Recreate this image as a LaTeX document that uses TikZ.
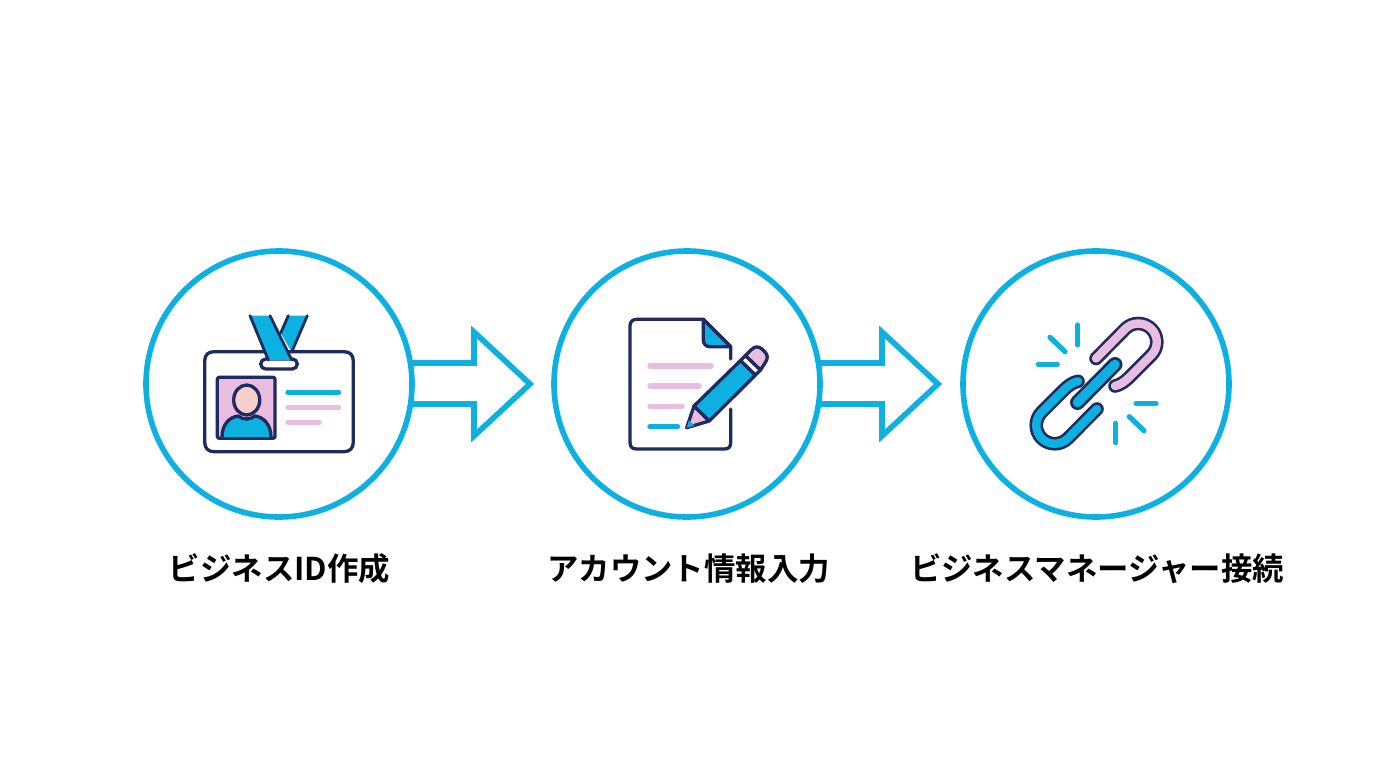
\documentclass[tikz,border=0pt]{standalone}
\usepackage{fontspec}
\setmainfont[BoldFont={Noto Sans CJK JP Bold}]{Noto Sans CJK JP}
\usetikzlibrary{calc}
\definecolor{cy}{HTML}{0CB1E2}
\definecolor{pk}{HTML}{E9BDE0}
\definecolor{nv}{HTML}{1F2A5E}
\definecolor{sk}{HTML}{F5CFCA}
\tikzset{
 ring/.style={circle,draw=cy,line width=5.6pt,minimum size=266pt,inner sep=0pt,outer sep=0pt},
 flow/.style={draw=cy,line width=5.6pt,line join=miter,miter limit=10},
 caption/.style={font=\bfseries\fontsize{31.4}{36}\selectfont,text=black,inner sep=0pt},
 ol/.style={draw=nv,line width=3.3pt,line join=round,line cap=round},
 bar/.style={line width=5.5pt,line cap=round},
 spark/.style={draw=cy,line width=5.2pt,line cap=round},
 linkout/.style={draw=nv,line width=13.6pt,line cap=round,line join=round},
 linkin/.style={line width=8.4pt,line cap=round,line join=round},
 barout/.style={draw=nv,line width=15pt,line cap=round},
 barin/.style={draw=cy,line width=9.6pt,line cap=round},
}
\begin{document}
\begin{tikzpicture}[x=1pt,y=-1pt]
\useasboundingbox[fill=white] (0,0) rectangle (1376,768);
\node[ring] (a) at (279,384) {};
\node[ring] (b) at (687,384) {};
\node[ring] (c) at (1096,384) {};
\coordinate (a1) at ($(a)+(131,-21)$);
\coordinate (a2) at ($(a)+(131,20)$);
\coordinate (b1) at ($(b)+(131,-21)$);
\coordinate (b2) at ($(b)+(131,20)$);
\draw[flow] (a1) -- ++(64,0) -- ++(0,-31) -- ++(56,52) -- ++(-56,52) -- ++(0,-32) -- (a2);
\draw[flow] (b1) -- ++(64,0) -- ++(0,-31) -- ++(56,52) -- ++(-56,52) -- ++(0,-32) -- (b2);
% captions
\node[caption] (t1) at (279.5,569) {ビジネスID作成};
\node[caption] (t2) at (688.5,569) {アカウント情報入力};
\node[caption] (t3) at (1097,569) {ビジネスマネージャー接続};
% --- icon 1
\draw[ol] (214,351.7) -- (344,351.7) .. controls (350,351.7) and (353.3,355) .. (353.3,361) -- (353.3,442) .. controls (353.3,448) and (350,451.7) .. (344,451.7) -- (214,451.7) .. controls (208,451.7) and (204.7,448) .. (204.7,442) -- (204.7,361) .. controls (204.7,355) and (208,351.7) .. (214,351.7) -- cycle;
\fill[cy] (288.3,315.7) -- (307.3,315.7) -- (291.7,352) -- (280.7,333) -- cycle;
\draw[ol,line width=2.8pt] (288.3,315.7) -- (280.7,333) (307.3,315.7) -- (291.7,352);
\draw[ol,fill=white,rounded corners=5pt] (260.7,359) rectangle (297.3,369);
\fill[cy] (250,315.7) -- (270,315.7) -- (291.7,360) -- (268.3,360) -- cycle;
\draw[ol,line width=2.8pt] (250,315.7) -- (268.3,360) (270,315.7) -- (291.7,360);
\draw[ol,fill=pk,rounded corners=2pt] (217.3,377.3) rectangle (275,438.3);
\fill[cy] (222,437) .. controls (222,424) and (230,417) .. (238,416) .. controls (243,420) and (250,420) .. (255,416) .. controls (263,417) and (271,424) .. (271,437) -- cycle;
\draw[ol] (222,437) .. controls (222,424) and (230,417) .. (238,416) .. controls (243,420) and (250,420) .. (255,416) .. controls (263,417) and (271,424) .. (271,437);
\draw[ol,fill=sk] (246.7,400) ellipse[x radius=13,y radius=15];
\draw[bar,cy] (288,392.3) -- (338.5,392.3);
\draw[bar,pk] (288,407.3) -- (338.5,407.3);
\draw[bar,pk] (288,422.3) -- (319,422.3);
% --- icon 2
\draw[ol] (730.7,359) -- (730.7,346.7) -- (703.3,319.3) -- (637,319.3) .. controls (632,319.3) and (630,322) .. (630,326) -- (630,442) .. controls (630,447) and (632,449) .. (637,449) -- (724,449) .. controls (729,449) and (730.7,447) .. (730.7,442) -- (730.7,409);
\draw[ol,fill=cy] (703.3,319.3) -- (703.3,340) .. controls (703.3,344) and (706,346.7) .. (710,346.7) -- (730.7,346.7) -- cycle;
\draw[bar,pk] (650,366) -- (711,366);
\draw[bar,pk] (650,386) -- (699,386);
\draw[bar,pk] (650,406.3) -- (682,406.3);
\draw[bar,cy] (650,426.7) -- (677.5,426.7);
% pencil
\draw[ol,fill=pk] (694,406) -- (709.3,421) -- (686.7,427.7) -- cycle;
\draw[draw=none,fill=cy] (689,420.5) -- (694.5,425.5) -- (686.7,427.7) -- cycle;
\draw[ol,fill=cy] (694,406) -- (740.5,360.5) -- (755.5,375) -- (709.3,421) -- cycle;
\draw[ol,fill=white] (740.5,360.5) -- (745.5,355.5) -- (760.5,370) -- (755.5,375) -- cycle;
\draw[ol,fill=pk] (745.5,355.5) -- (751,350) .. controls (755,346) and (758,346) .. (762,349) -- (765,352) .. controls (768,355) and (768,359) .. (765,363) -- (760.5,370) -- cycle;
% --- icon 3
\foreach \p/\q in {{1077.7,325}/{1077.7,345},{1050,337.3}/{1065,351.7},{1038.3,364.3}/{1057.3,364.3},{1136,403.3}/{1156,403.3},{1129.3,416.7}/{1144,430.7},{1115.7,423.3}/{1115.7,442.7}}{
 \draw[spark] (\p) -- (\q);
}
\def\pinklink{(1096,358.5) -- (1125.2,328.9) .. controls (1132.4,321.7) and (1144.2,321.7) .. (1151.4,328.9) .. controls (1158.6,336.1) and (1158.6,347.9) .. (1151.4,355.1) -- (1129,377.5) .. controls (1125,381.5) and (1120,385) .. (1115,386)}
\def\bluelink{(1078,381.3) .. controls (1073,382.3) and (1068,385.8) .. (1064,389.8) -- (1041.65,412.15) .. controls (1034.45,419.35) and (1034.45,431.15) .. (1041.65,438.35) .. controls (1048.85,445.55) and (1060.65,445.55) .. (1067.85,438.35) -- (1097,409)}
\draw[linkout] \pinklink;
\draw[linkin,pk] \pinklink;
\draw[linkout] \bluelink;
\draw[linkin,cy] \bluelink;
\draw[barout] (1077.5,402.5) -- (1115,364.5);
\draw[barin] (1077.5,402.5) -- (1115,364.5);
\end{tikzpicture}
\end{document}
